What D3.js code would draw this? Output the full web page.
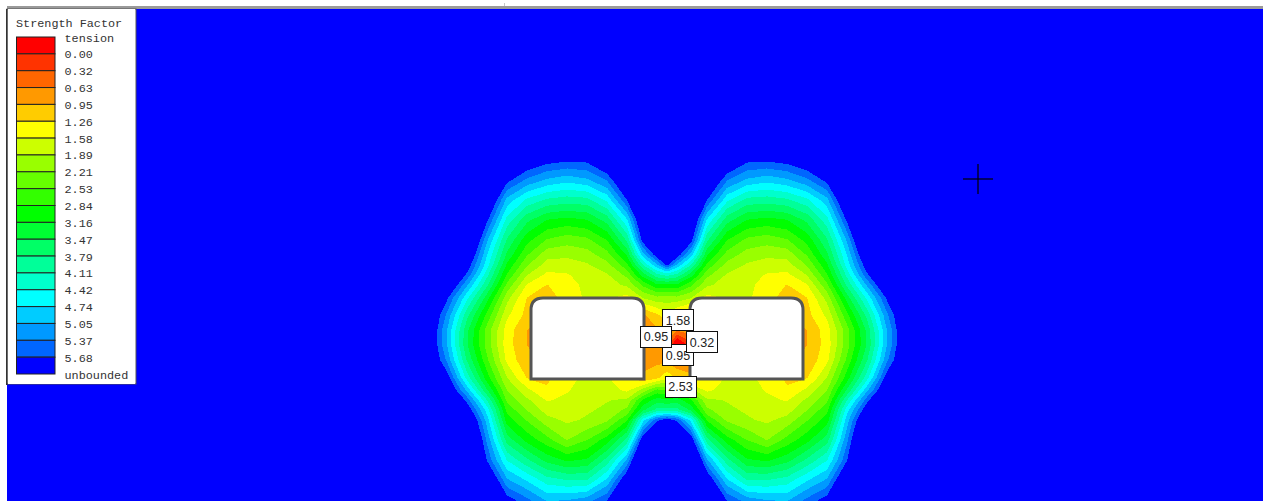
<!DOCTYPE html>
<html>
<head>
<meta charset="utf-8">
<script src="https://cdn.jsdelivr.net/npm/d3@7"></script>
<style>
  html, body { margin: 0; padding: 0; background: #fff; overflow: hidden; }
  svg { display: block; }
</style>
</head>
<body>
<svg width="1269" height="501"></svg>
<script>
// strength factor, grid nodes in model units (0,0 = middle of the two openings)
var gridX = [-240,-220,-200,-180,-160,-140,-120,-100,-80,-60,-40,-24,-10,0,10,24,40,60,80,100,120,140,160,180,200,220,240];
var gridY = [-200,-180,-160,-140,-120,-100,-85,-75,-65,-55,-42,-25,-10,5,20,38,50,60,70,80,100,120,140,160,180];
var factorGrid = [
  [8.6,8.4,8.2,7.8,7.4,7.0,6.8,6.7,6.8,7.0,7.4,7.8,8.1,8.2,8.1,7.8,7.4,7.0,6.8,6.7,6.8,7.0,7.4,7.8,8.2,8.4,8.6],
  [8.4,8.2,8.0,7.4,6.7,6.1,5.85,5.75,5.78,6.3,7.0,7.6,8.0,8.0,8.0,7.6,7.0,6.3,5.78,5.75,5.85,6.1,6.7,7.4,8.0,8.2,8.4],
  [8.2,8.0,7.7,7.0,5.8,5.3,5.0,4.85,5.0,5.4,6.4,7.2,7.6,7.8,7.6,7.2,6.4,5.4,5.0,4.85,5.0,5.3,5.8,7.0,7.7,8.0,8.2],
  [8.0,7.8,7.5,6.4,4.95,4.35,4.05,3.95,4.0,4.5,5.68,6.8,7.2,7.5,7.2,6.8,5.68,4.5,4.0,3.95,4.05,4.35,4.95,6.4,7.5,7.8,8.0],
  [7.8,7.6,7.2,5.75,4.3,3.55,3.15,3.05,3.15,3.6,4.7,6.4,6.9,7.2,6.9,6.4,4.7,3.6,3.15,3.05,3.15,3.55,4.3,5.75,7.2,7.6,7.8],
  [7.5,7.3,6.8,5.1,3.75,2.95,2.5,2.35,2.45,2.85,3.85,5.85,6.5,6.8,6.5,5.85,3.85,2.85,2.45,2.35,2.5,2.95,3.75,5.1,6.8,7.3,7.5],
  [7.3,7.1,6.3,4.75,3.4,2.55,2.0,1.95,2.05,2.4,3.2,4.9,5.9,6.3,5.9,4.9,3.2,2.4,2.05,1.95,2.0,2.55,3.4,4.75,6.3,7.1,7.3],
  [7.2,6.9,5.95,4.55,3.1,2.25,1.75,1.75,1.85,2.1,2.75,4.1,5.0,5.75,5.0,4.1,2.75,2.1,1.85,1.75,1.75,2.25,3.1,4.55,5.95,6.9,7.2],
  [7.0,6.6,5.6,4.2,2.8,1.9,1.5,1.55,1.72,1.85,2.3,3.3,4.0,4.2,4.0,3.3,2.3,1.85,1.72,1.55,1.5,1.9,2.8,4.2,5.6,6.6,7.0],
  [6.9,6.3,5.1,3.85,2.45,1.55,1.25,1.4,1.7,1.75,1.95,2.6,3.1,3.1,3.1,2.6,1.95,1.75,1.7,1.4,1.25,1.55,2.45,3.85,5.1,6.3,6.9],
  [6.6,5.75,4.5,3.3,2.0,1.25,1.15,1.35,1.65,1.62,1.45,1.9,2.1,2.05,2.1,1.9,1.45,1.62,1.65,1.35,1.15,1.25,2.0,3.3,4.5,5.75,6.6],
  [6.4,5.3,3.9,2.75,1.65,1.15,0.9,1.35,1.65,1.6,1.1,0.9,1.2,1.5,1.15,0.9,1.1,1.6,1.65,1.35,0.9,1.15,1.65,2.75,3.9,5.3,6.4],
  [6.35,5.05,3.55,2.4,1.42,0.95,0.9,1.35,1.65,1.6,0.9,0.9,0.9,0.85,0.7,0.8,0.9,1.6,1.65,1.35,0.9,0.95,1.42,2.4,3.55,5.05,6.35],
  [6.35,5.05,3.5,2.4,1.4,0.95,0.9,1.35,1.65,1.6,0.9,0.85,0.8,0.55,-0.6,0.2,0.9,1.6,1.65,1.35,0.9,0.95,1.4,2.4,3.5,5.05,6.35],
  [6.4,5.3,3.75,2.6,1.5,1.0,0.9,1.35,1.65,1.6,0.9,0.85,0.85,0.85,0.7,0.8,0.9,1.6,1.65,1.35,0.9,1.0,1.5,2.6,3.75,5.3,6.4],
  [6.6,5.9,4.3,3.0,1.9,1.25,1.2,1.45,1.68,1.62,1.25,1.0,1.2,1.5,1.2,1.0,1.25,1.62,1.68,1.45,1.2,1.25,1.9,3.0,4.3,5.9,6.6],
  [6.8,6.3,4.95,3.5,2.2,1.65,1.3,1.55,1.72,1.75,1.5,2.0,2.6,2.5,2.6,2.0,1.5,1.75,1.72,1.55,1.3,1.65,2.2,3.5,4.95,6.3,6.8],
  [7.0,6.7,5.55,4.1,2.45,1.95,1.55,1.65,1.78,1.87,1.95,2.9,3.3,3.2,3.3,2.9,1.95,1.87,1.78,1.65,1.55,1.95,2.45,4.1,5.55,6.7,7.0],
  [7.1,7.0,6.0,4.6,2.75,2.2,1.75,1.72,1.85,1.95,2.3,3.4,3.9,3.9,3.9,3.4,2.3,1.95,1.85,1.72,1.75,2.2,2.75,4.6,6.0,7.0,7.1],
  [7.2,7.2,6.5,4.9,3.0,2.5,2.0,1.83,1.93,2.15,2.8,4.6,5.6,5.9,5.6,4.6,2.8,2.15,1.93,1.83,2.0,2.5,3.0,4.9,6.5,7.2,7.2],
  [7.5,7.4,7.0,5.3,3.65,3.05,2.65,2.2,2.53,3.0,3.9,6.0,6.9,6.9,6.9,6.0,3.9,3.0,2.53,2.2,2.65,3.05,3.65,5.3,7.0,7.4,7.5],
  [7.8,7.6,7.4,5.65,4.4,3.85,3.35,3.1,3.2,3.9,5.1,6.9,7.3,7.4,7.3,6.9,5.1,3.9,3.2,3.1,3.35,3.85,4.4,5.65,7.4,7.6,7.8],
  [8.0,7.9,7.8,6.4,5.1,4.7,4.25,4.1,4.1,4.8,6.1,7.4,7.6,7.7,7.6,7.4,6.1,4.8,4.1,4.1,4.25,4.7,5.1,6.4,7.8,7.9,8.0],
  [8.2,8.1,8.0,7.0,5.85,5.45,5.0,5.05,5.2,5.65,6.8,7.6,7.8,7.9,7.8,7.6,6.8,5.65,5.2,5.05,5.0,5.45,5.85,7.0,8.0,8.1,8.2],
  [8.4,8.3,8.2,7.5,6.6,6.2,5.8,5.95,6.2,6.5,7.3,7.8,8.0,8.1,8.0,7.8,7.3,6.5,6.2,5.95,5.8,6.2,6.6,7.5,8.2,8.3,8.4]
];

var bandLevels = [-1,0,0.32,0.63,0.95,1.26,1.58,1.89,2.21,2.53,2.84,3.16,3.47,3.79,4.11,4.42,4.74,5.05,5.37,5.68];
var bandColors = ["#ff0000","#ff3300","#ff6600","#ff9900","#ffcc00","#ffff00","#ccff00","#99ff00","#66ff00","#33ff00",
                  "#00ff00","#00ff33","#00ff66","#00ff99","#00ffcc","#00ffff","#00ccff","#0099ff","#0066ff","#0000ff"];
var legendLabels = ["tension","0.00","0.32","0.63","0.95","1.26","1.58","1.89","2.21","2.53","2.84","3.16","3.47","3.79","4.11","4.42","4.74","5.05","5.37","5.68","unbounded"];

// the two openings [x0, x1, y0, y1]
var openings = [[-136,-23,-42,39],[23,136,-42,39]];

// query labels, lowest first
var pointValues = ["1.58","0.95","0.95","0.32","2.53"];
var pointX = [11,11,-11,35,13.5];
var pointY = [-20,15,-3.5,2,46.5];

var crossX = [311];
var crossY = [-161];

var svg = d3.select("svg");

var x = d3.scaleLinear().domain([-240,240]).range([427,907]);
var y = d3.scaleLinear().domain([-200,180]).range([140,520]);
// d3.contours works in node index, so map index -> model -> pixel
var colIndex = d3.scaleLinear().domain(d3.range(gridX.length)).range(gridX);
var rowIndex = d3.scaleLinear().domain(d3.range(gridY.length)).range(gridY);

var plotLeft = 7, plotTop = 9, plotRight = 1263, plotBottom = 501;

svg.append("rect").attr("x",plotLeft).attr("y",6).attr("width",plotRight-plotLeft).attr("height",3).attr("fill","#9a9a9a");
svg.append("rect").attr("x",504).attr("y",3).attr("width",1).attr("height",3).attr("fill","#c8c8c8");
svg.append("rect").attr("x",plotLeft).attr("y",plotTop).attr("width",plotRight-plotLeft).attr("height",plotBottom-plotTop).attr("fill","#0000ff");

var project = d3.geoTransform({
    point: function(px, py) {
        this.stream.point(x(colIndex(px - 0.5)), y(rowIndex(py - 0.5)));
    }
});
var path = d3.geoPath(project);

var contours = d3.contours()
    .size([gridX.length, gridY.length])
    .thresholds(bandLevels)(factorGrid.flat());

svg.append("g").selectAll("path")
    .data(contours)
    .join("path")
    .attr("d", path)
    .attr("fill", function(d, i) { return bandColors[i]; })
    .attr("shape-rendering", "crispEdges");

// openings, top corners rounded, bottom ones square
svg.append("g").selectAll("path")
    .data(openings)
    .join("path")
    .attr("d", function(o) {
        var p = d3.path(), r = 12;
        var l = x(o[0]), rt = x(o[1]), t = y(o[2]), b = y(o[3]);
        p.moveTo(l, b);
        p.lineTo(l, t + r);
        p.quadraticCurveTo(l, t, l + r, t);
        p.lineTo(rt - r, t);
        p.quadraticCurveTo(rt, t, rt, t + r);
        p.lineTo(rt, b);
        p.closePath();
        return p.toString();
    })
    .attr("fill", "#fff")
    .attr("stroke", "#555")
    .attr("stroke-width", 3);

// query point labels
var labelG = svg.append("g").selectAll("g")
    .data(pointValues)
    .join("g")
    .attr("transform", function(d, i) { return "translate(" + x(pointX[i]) + "," + y(pointY[i]) + ")"; });
labelG.append("rect")
    .attr("x", -15.5).attr("y", -10.5).attr("width", 31).attr("height", 21)
    .attr("fill", "#fff").attr("stroke", "#111").attr("stroke-width", 1)
    .attr("shape-rendering", "crispEdges");
labelG.append("text")
    .attr("text-anchor", "middle").attr("y", 4.5)
    .attr("font-family", "Liberation Sans, Arial, sans-serif").attr("font-size", 12.5)
    .attr("fill", "#222")
    .text(function(d) { return d; });

// cross hair
var cross = svg.append("g").attr("stroke", "#000").attr("stroke-width", 1.2);
crossX.forEach(function(cx, i) {
    cross.append("line").attr("x1", x(cx) - 15).attr("x2", x(cx) + 15).attr("y1", y(crossY[i])).attr("y2", y(crossY[i]));
    cross.append("line").attr("x1", x(cx)).attr("x2", x(cx)).attr("y1", y(crossY[i]) - 15).attr("y2", y(crossY[i]) + 15);
});

// legend
var legend = svg.append("g");
legend.append("rect").attr("x", 7).attr("y", 9).attr("width", 129).attr("height", 375)
    .attr("fill", "#fff").attr("stroke", "#555").attr("stroke-width", 1);
legend.append("rect").attr("x", 8).attr("y", 9).attr("width", 127).attr("height", 375).attr("fill", "#fff");
legend.append("rect").attr("x", 6).attr("y", 9).attr("width", 1.5).attr("height", 376).attr("fill", "#333");

var swatchY = d3.scaleLinear().domain([0, bandColors.length]).range([37, 374]);
legend.selectAll("rect.swatch")
    .data(bandColors)
    .join("rect")
    .attr("class", "swatch")
    .attr("x", 16.5)
    .attr("y", function(d, i) { return swatchY(i); })
    .attr("width", 38.5)
    .attr("height", swatchY(1) - swatchY(0))
    .attr("fill", function(d) { return d; })
    .attr("stroke", "#222")
    .attr("stroke-width", 1);

var mono = "Liberation Mono, Courier New, monospace";
legend.append("text").attr("x", 16).attr("y", 27)
    .attr("font-family", mono).attr("font-size", 11.8).attr("fill", "#333")
    .text("Strength Factor");
legend.selectAll("text.lab")
    .data(legendLabels)
    .join("text")
    .attr("class", "lab")
    .attr("x", 64.5)
    .attr("y", function(d, i) { return swatchY(i) + 4.5; })
    .attr("font-family", mono).attr("font-size", 11.8).attr("fill", "#333")
    .text(function(d) { return d; });
</script>
</body>
</html>
